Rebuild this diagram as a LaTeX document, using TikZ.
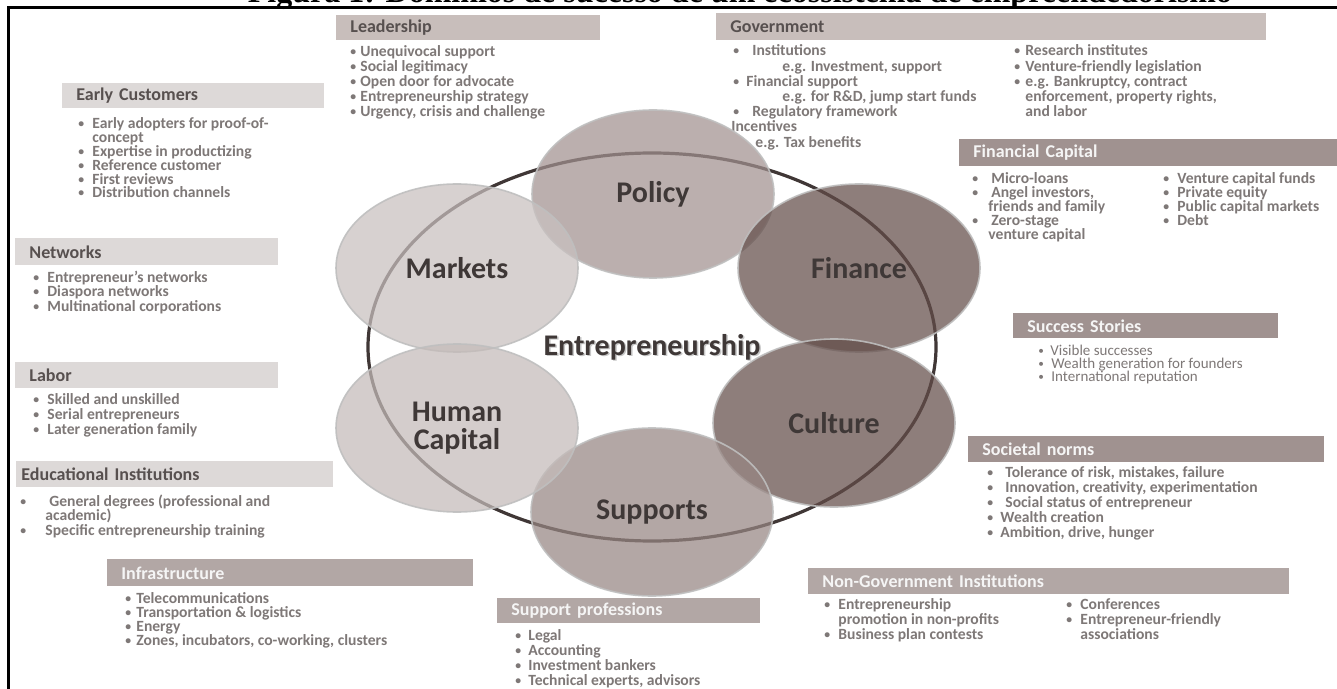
\documentclass[tikz,border=0pt]{standalone}
\usepackage{fontspec}
\setmainfont{Carlito}
\newfontfamily\capfont{Liberation Serif}
\usepackage{tikz}
\usetikzlibrary{shapes}
\definecolor{hdrA}{HTML}{C8BEBB}
\definecolor{hdrB}{HTML}{DDD9D8}
\definecolor{hdrC}{HTML}{B2A7A5}
\definecolor{hdrD}{HTML}{A09290}
\definecolor{hdrtxt}{HTML}{57504F}
\definecolor{lsttxt}{HTML}{7E7877}
\definecolor{domL}{HTML}{C8C0BF}
\definecolor{domH}{HTML}{C4BBB9}
\definecolor{domM}{HTML}{A1918F}
\definecolor{domS}{HTML}{978683}
\definecolor{domD}{HTML}{634D49}
\definecolor{domtxt}{HTML}{3F3837}
\definecolor{ringc}{HTML}{403736}
\setlength{\lineskiplimit}{-10pt}
\newcommand{\itm}[1][7pt]{\makebox[#1][l]{\raisebox{0.5pt}{\scalebox{0.75}{\textbullet}}}}
\newcommand{\lf}[1]{\fontsize{7.8}{#1}\selectfont\bfseries}

\begin{document}
\begin{tikzpicture}[x=0.5pt,y=-0.5pt]
\tikzstyle{hdr}=[rectangle, anchor=north west, inner xsep=7pt, inner ysep=0pt,
	align=left, font=\fontsize{9}{10}\selectfont\bfseries]
\tikzstyle{hdrtan}=[hdr, fill=hdrA, text=hdrtxt]
\tikzstyle{hdrpale}=[hdr, fill=hdrB, text=hdrtxt]
\tikzstyle{hdrmid}=[hdr, fill=hdrC, text=white!96!black]
\tikzstyle{hdrdeep}=[hdr, fill=hdrD, text=white!96!black]
\tikzstyle{lst}=[anchor=north west, inner sep=0pt, align=left, text=lsttxt]
\tikzstyle{dom}=[ellipse, minimum width=121pt, minimum height=84pt, inner sep=0pt,
	draw=white!75!black, line width=0.8pt, fill opacity=0.72, draw opacity=0.9,
	text opacity=1, text=domtxt, align=center, font=\fontsize{15}{16}\selectfont\bfseries]
\path[fill=white] (0,0) rectangle (1337,689);
\useasboundingbox (0,0) rectangle (1337,689);

\begin{scope}
\clip (0,0) rectangle (1337,11);
\node[anchor=base, inner sep=0pt, font=\capfont\bfseries\fontsize{16}{18}\selectfont] (title)
	at (740,3) {Figura 1: Domínios de sucesso de um ecossistema de empreendedorismo};
\end{scope}
\draw[line width=1.5pt] (8,689) -- (8,8) -- (1337,8);

\node[hdrtan, text width=118pt, minimum height=12.5pt] (lead) at (336,15) {Leadership};
\node[lst, font=\lf{7.5}] (leadl) at (350,45.5) {\itm[5pt]Unequivocal support\\
	\itm[5pt]Social legitimacy\\ \itm[5pt]Open door for advocate\\
	\itm[5pt]Entrepreneurship strategy\\ \itm[5pt]Urgency, crisis and challenge};

\node[hdrtan, text width=261pt, minimum height=13.5pt] (gov) at (716,13) {Government};
\node[lst, font=\lf{7.6}] (govl) at (733,44.5) {\itm[9.5pt]Institutions\\
	\hspace*{24.5pt}e.g. Investment, support\\ \itm[6.5pt]Financial support\\
	\hspace*{24.5pt}e.g. for R\&D, jump start funds\\ \itm[9.5pt]Regulatory framework\\
	\hspace*{-1pt}Incentives\\ \hspace*{11pt}e.g. Tax benefits};
\node[lst, font=\lf{7.6}] (govr) at (1014,44.5) {\itm[5.5pt]Research institutes\\
	\itm[5.5pt]Venture-friendly legislation\\ \itm[5.5pt]e.g. Bankruptcy, contract\\
	\hspace*{5.5pt}enforcement, property rights,\\ \hspace*{5.5pt}and labor};

\node[hdrpale, text width=117pt, minimum height=12.5pt] (early) at (62,83) {Early Customers};
\node[lst, font=\lf{6.9}] (earlyl) at (78,117.5) {\itm Early adopters for proof-of-\\
	\hspace*{7pt}concept\\ \itm Expertise in productizing\\ \itm Reference customer\\
	\itm First reviews\\ \itm Distribution channels};

\node[hdrpale, text width=117.5pt, minimum height=13.5pt] (netw) at (15,238) {Networks};
\node[lst, font=\lf{7.25}] (netwl) at (33,270.5) {\itm Entrepreneur’s networks\\
	\itm Diaspora networks\\ \itm Multinational corporations};

\node[hdrpale, text width=117.5pt, minimum height=13pt] (labor) at (15,362) {Labor};
\node[lst, font=\lf{7.5}] (laborl) at (33,393.5) {\itm Skilled and unskilled\\
	\itm Serial entrepreneurs\\ \itm Later generation family};

\node[hdrpale, inner xsep=2.5pt, text width=153.5pt, minimum height=13pt] (educ) at (16,461)
	{Educational Institutions};
\node[lst, font=\lf{7.25}] (educl) at (20,494.5) {\itm[14.5pt]General degrees (professional and\\
	\hspace*{12.5pt}academic)\\ \itm[12.5pt]Specific entrepreneurship training};

\node[hdrmid, text width=169pt, minimum height=13.5pt] (infra) at (107,559) {Infrastructure};
\node[lst, font=\lf{7}] (infral) at (125,592.5) {\itm[5.5pt]Telecommunications\\
	\itm[5.5pt]Transportation \& logistics\\ \itm[5.5pt]Energy\\
	\itm[5.5pt]Zones, incubators, co-working, clusters};

\node[hdrmid, text width=117.5pt, minimum height=12.5pt] (suppro) at (497,598) {Support professions};
\node[lst, font=\lf{7.5}] (supprol) at (515,629.5) {\itm[6.5pt]Legal\\ \itm[6.5pt]Accounting\\
	\itm[6.5pt]Investment bankers\\ \itm[6.5pt]Technical experts, advisors};

\node[hdrmid, text width=226.5pt, minimum height=13pt] (nongov) at (808,568)
	{Non-Government Institutions};
\node[lst, font=\lf{7.5}] (nongovl) at (824,598.5) {\itm Entrepreneurship\\
	\hspace*{7pt}promotion in non-profits\\ \itm Business plan contests};
\node[lst, font=\lf{7.5}] (nongovr) at (1066,598.5) {\itm Conferences\\
	\itm Entrepreneur-friendly\\ \hspace*{7pt}associations};

\node[hdrdeep, text width=164pt, minimum height=13pt] (norms) at (968,436) {Societal norms};
\node[lst, font=\lf{7.4}] (normsl) at (987,466.5) {\itm[9pt]Tolerance of risk, mistakes, failure\\
	\itm[9pt]Innovation, creativity, experimentation\\ \itm[9pt]Social status of entrepreneur\\
	\itm[6.5pt]Wealth creation\\ \itm[6.5pt]Ambition, drive, hunger};

\node[hdrdeep, text width=118.5pt, minimum height=12.5pt] (success) at (1013,313) {Success Stories};
\node[lst, font=\fontsize{7.5}{6.3}\selectfont] (successl) at (1038,345) {\itm[6pt]Visible successes\\
	\itm[6.5pt]Wealth generation for founders\\ \itm[6.5pt]International reputation};

\node[hdrdeep, text width=175pt, minimum height=13.5pt] (fincap) at (959,139) {Financial Capital};
\node[lst, font=\lf{7}] (fincapl) at (972,172.5) {\itm[9.5pt]Micro-loans\\
	\itm[9.5pt]Angel investors,\\ \hspace*{8pt}friends and family\\
	\itm[9.5pt]Zero-stage\\ \hspace*{8pt}venture capital};
\node[lst, font=\lf{7}] (fincapr) at (1163,172.5) {\itm Venture capital funds\\
	\itm Private equity\\ \itm Public capital markets\\ \itm Debt};

\node[inner sep=0pt, text=black!22, font=\fontsize{15}{16}\selectfont\bfseries] (ecoshd)
	at (653.5,348.5) {Entrepreneurship};
\node[ellipse, draw=ringc, line width=1.6pt, minimum width=284pt, minimum height=194pt,
	inner sep=0pt, text=domtxt, font=\fontsize{15}{16}\selectfont\bfseries] (eco)
	at (652,347) {Entrepreneurship};

\node[dom, fill=domM] (policy) at (653,194) {Policy};
\node[dom, fill=domL] (markets) at (457,268) {Markets};
\node[dom, fill=domD] (finance) at (859,268) {Finance};
\node[dom, fill=domD] (culture) at (834,423) {Culture};
\node[dom, fill=domS] (supports) at (652,512) {Supports};
\node[dom, fill=domH] (human) at (457,428) {Human\\[-2pt]Capital};
\end{tikzpicture}
\end{document}
